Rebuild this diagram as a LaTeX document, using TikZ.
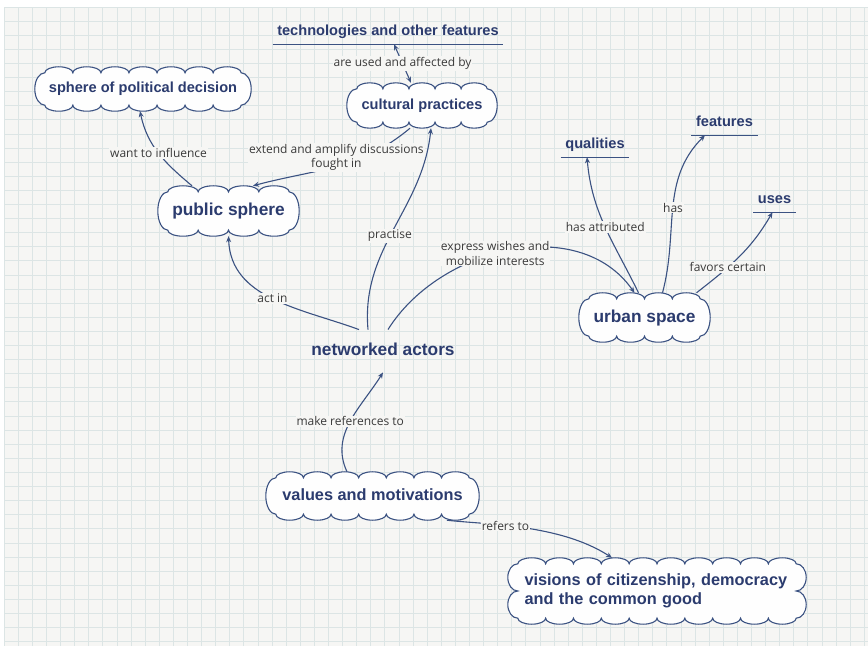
\documentclass[tikz,border=0pt]{standalone}
\usepackage{fontspec}
\newfontfamily\headfont{Liberation Sans}
\newfontfamily\labelfont{Open Sans}
\usetikzlibrary{calc,arrows.meta}

\definecolor{paper}{HTML}{F6F6F4}
\definecolor{gridline}{HTML}{DCE5E5}
\definecolor{navy}{HTML}{2B3B6E}
\definecolor{linkblue}{HTML}{3B5282}
\definecolor{labelgray}{HTML}{3A3A3A}
\definecolor{cloudfill}{HTML}{FEFEFE}

\newcommand{\smallhead}{\headfont\bfseries\fontsize{14.6}{17}\selectfont}
\newcommand{\midhead}{\headfont\bfseries\fontsize{16.3}{19}\selectfont}
\newcommand{\bighead}{\headfont\bfseries\fontsize{17.3}{20}\selectfont}

\pgfdeclarelayer{gridlayer}
\pgfdeclarelayer{cloudlayer}
\pgfsetlayers{gridlayer,cloudlayer,main}

\tikzset{
  bubble/.style={text=navy, inner sep=0pt, text depth=3pt},
  bubbletwo/.style={text=navy, inner sep=0pt},
  term/.style={font=\smallhead, text=navy, inner xsep=4.5pt, inner ysep=4.75pt,
    text height=11pt, text depth=3.5pt,
    append after command={(\tikzlastnode.south west) edge[draw=linkblue, line width=1pt] (\tikzlastnode.south east)}},
  lbl/.style={font=\labelfont\fontsize{12}{14.5}\selectfont, text=labelgray, fill=paper,
    inner sep=1pt, align=center},
  link/.style={draw=linkblue, line width=1.1pt},
  cloudline/.style={draw=linkblue, line width=1.1pt, fill=cloudfill}
}

% #1 node, #2 bumps on top and bottom, #3 bumps on the sides
\newcommand{\cloudify}[3]{%
  \draw[cloudline] let \p1=(#1.north west), \p2=(#1.south east),
      \n1={(\x2-\x1-20pt)/(2*#2)}, \n2={(\y1-\y2-12pt)/(2*#3)} in
    ($(\p1)+(10pt,-6pt)$)
    foreach \i in {1,...,#2} {arc[start angle=180, end angle=0, x radius=\n1, y radius=6pt]}
    foreach \i in {1,...,#3} {arc[start angle=90, end angle=-90, x radius=10pt, y radius=\n2]}
    foreach \i in {1,...,#2} {arc[start angle=0, end angle=-180, x radius=\n1, y radius=6pt]}
    foreach \i in {1,...,#3} {arc[start angle=270, end angle=90, x radius=10pt, y radius=\n2]}
    -- cycle;}

\begin{document}
\begin{tikzpicture}[x=1pt,y=1pt,>={Stealth[length=6pt,width=5pt]}]

  \useasboundingbox (0,0) rectangle (868,646);

  \begin{pgfonlayer}{gridlayer}
    \fill[white] (0,0) rectangle (868,646);
    \fill[paper] (4,0) rectangle (868,639);
    \foreach \k in {0,...,61} \draw[gridline, line width=.6pt] ({4+14.1*\k},0) -- ({4+14.1*\k},639);
    \foreach \k in {0,...,45} \draw[gridline, line width=.6pt] (4,{639-14.1*\k}) -- (868,{639-14.1*\k});
  \end{pgfonlayer}

  \node[term] (tech) at (388,614) {technologies and other features};
  \node[term] (qual) at (595,501) {qualities};
  \node[term] (feat) at (724.5,523) {features};
  \node[term] (uses) at (774.5,446) {uses};

  \node[bubble, font=\smallhead, minimum width=216pt, minimum height=44pt] (spd) at (143,557) {sphere of political decision};
  \node[bubble, font=\smallhead, minimum width=150pt, minimum height=45pt] (cult) at (422,540.5) {cultural practices};
  \node[bubble, font=\bighead, minimum width=141pt, minimum height=50pt] (pub) at (228.5,435) {public sphere};
  \node[bubble, font=\bighead, minimum width=131pt, minimum height=49pt] (urban) at (644.5,328.5) {urban space};
  \node[font=\bighead, text=navy, inner xsep=4pt, inner ysep=13pt, text height=12.5pt, text depth=4pt] (na) at (383,295) {networked actors};
  \node[bubble, font=\midhead, minimum width=213pt, minimum height=48pt] (values) at (372.5,150) {values and motivations};
  \node[bubbletwo, font=\midhead, minimum width=298pt, minimum height=66pt, text width=265pt, align=left] (visions) at (657,55)
    {visions of citizenship, democracy\\and the common good};

  \begin{pgfonlayer}{cloudlayer}
    \cloudify{spd}{7}{1}
    \cloudify{cult}{5}{1}
    \cloudify{pub}{4}{1}
    \cloudify{urban}{4}{1}
    \cloudify{values}{7}{1}
    \cloudify{visions}{10}{2}
  \end{pgfonlayer}

  \draw[link,<->] ([xshift=-11pt]cult.north) -- node[lbl]{are used and affected by} ([xshift=6pt]tech.south);
  \draw[link,->] ([xshift=-36.5pt]pub.north) to[out=140,in=-78] node[lbl]{want to influence} ([xshift=-3pt]spd.south);
  \draw[link,->] ([xshift=-12pt]cult.south) to[out=-140,in=15] node[lbl,yshift=9pt]{extend and amplify discussions\\fought in} ([xshift=24.5pt]pub.north);
  \draw[link,->] ([xshift=-24pt]na.north) to[out=160,in=-88] node[lbl]{act in} (pub.south);
  \draw[link,->] ([xshift=-15pt]na.north) to[out=95,in=-96] node[lbl,pos=.46]{practise} ([xshift=9pt]cult.south);
  \draw[link,->] ([xshift=5pt]na.north) to[out=58,in=125] node[lbl,pos=.45]{express wishes and\\mobilize interests} ([xshift=-10pt]urban.north);
  \draw[link,->] ([xshift=-6pt]urban.north) to[out=116,in=-85] node[lbl]{has attributed} ([xshift=-8pt]qual.south);
  \draw[link,->] ([xshift=18pt]urban.north) to[out=75,in=-135] node[lbl]{has} ([xshift=-19.5pt]feat.south);
  \draw[link,->] ([xshift=52pt]urban.north) to[out=38,in=-120] node[lbl,pos=.35]{favors certain} ([xshift=-2pt]uses.south);
  \draw[link,->] ([xshift=-25.5pt]values.north) to[out=115,in=-122] node[lbl]{make references to} (na.south);
  \draw[link,->] ([xshift=74.5pt]values.south) to[out=-7,in=147,out looseness=.55,in looseness=.95] node[lbl,pos=.4]{refers to} ([xshift=-45pt]visions.north);

\end{tikzpicture}
\end{document}
